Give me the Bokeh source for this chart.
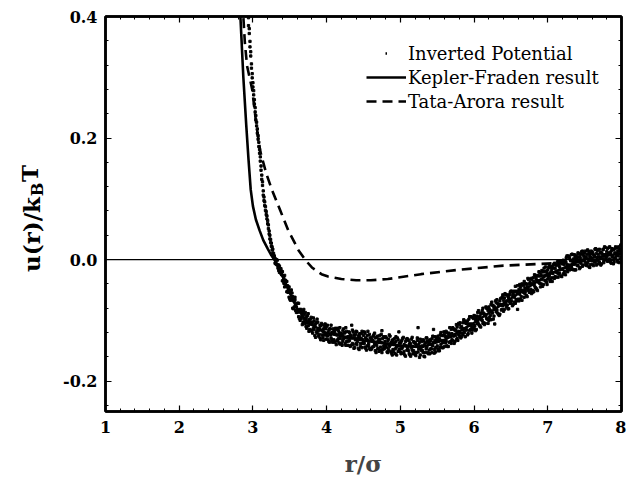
import math
from bokeh.plotting import figure
from bokeh.layouts import row
from bokeh.core.properties import value
from bokeh.models import (Range1d, SingleIntervalTicker, LinearAxis, NumeralTickFormatter,
                          CustomJSTickFormatter, Span, Legend, LegendItem, ColumnDataSource)
from bokeh.embed import file_html
from bokeh.resources import INLINE

# ---------------- data ----------------
# Inverted potential: r in hundredths of sigma, u in thousandths of kT (two samples per r)
inv_r_centi = [
    294, 295, 296, 297, 298, 299, 300, 301, 302, 303,
    304, 305, 306, 307, 308, 309, 310, 311, 312, 313,
    314, 315, 316, 317, 318, 319, 320, 321, 322, 323,
    324, 325, 326, 327, 328, 329,
    330, 331, 332, 333, 334, 335, 336, 337, 338, 339,
    340, 341, 342, 343, 344, 345, 346, 347, 348, 349,
    350, 351, 352, 353, 354, 355, 356, 357, 358, 359,
    360, 361, 362, 363, 364, 365, 366, 367, 368, 369,
    370, 371, 372, 373, 374, 375, 376, 377, 378, 379,
    380, 381, 382, 383, 384, 385, 386, 387, 388, 389,
    390, 391, 392, 393, 394, 395, 396, 397, 398, 399,
    400, 401, 402, 403, 404, 405, 406, 407, 408, 409,
    410, 411, 412, 413, 414, 415, 416, 417, 418, 419,
    420, 421, 422, 423, 424, 425, 426, 427, 428, 429,
    430, 431, 432, 433, 434, 435, 436, 437, 438, 439,
    440, 441, 442, 443, 444, 445, 446, 447, 448, 449,
    450, 451, 452, 453, 454, 455, 456, 457, 458, 459,
    460, 461, 462, 463, 464, 465, 466, 467, 468, 469,
    470, 471, 472, 473, 474, 475, 476, 477, 478, 479,
    480, 481, 482, 483, 484, 485, 486, 487, 488, 489,
    490, 491, 492, 493, 494, 495, 496, 497, 498, 499,
    500, 501, 502, 503, 504, 505, 506, 507, 508, 509,
    510, 511, 512, 513, 514, 515, 516, 517, 518, 519,
    520, 521, 522, 523, 524, 525, 526, 527, 528, 529,
    530, 531, 532, 533, 534, 535, 536, 537, 538, 539,
    540, 541, 542, 543, 544, 545, 546, 547, 548, 549,
    550, 551, 552, 553, 554, 555, 556, 557, 558, 559,
    560, 561, 562, 563, 564, 565, 566, 567, 568, 569,
    570, 571, 572, 573, 574, 575, 576, 577, 578, 579,
    580, 581, 582, 583, 584, 585, 586, 587, 588, 589,
    590, 591, 592, 593, 594, 595, 596, 597, 598, 599,
    600, 601, 602, 603, 604, 605, 606, 607, 608, 609,
    610, 611, 612, 613, 614, 615, 616, 617, 618, 619,
    620, 621, 622, 623, 624, 625, 626, 627, 628, 629,
    630, 631, 632, 633, 634, 635, 636, 637, 638, 639,
    640, 641, 642, 643, 644, 645, 646, 647, 648, 649,
    650, 651, 652, 653, 654, 655, 656, 657, 658, 659,
    660, 661, 662, 663, 664, 665, 666, 667, 668, 669,
    670, 671, 672, 673, 674, 675, 676, 677, 678, 679,
    680, 681, 682, 683, 684, 685, 686, 687, 688, 689,
    690, 691, 692, 693, 694, 695, 696, 697, 698, 699,
    700, 701, 702, 703, 704, 705, 706, 707, 708, 709,
    710, 711, 712, 713, 714, 715, 716, 717, 718, 719,
    720, 721, 722, 723, 724, 725, 726, 727, 728, 729,
    730, 731, 732, 733, 734, 735, 736, 737, 738, 739,
    740, 741, 742, 743, 744, 745, 746, 747, 748, 749,
    750, 751, 752, 753, 754, 755, 756, 757, 758, 759,
    760, 761, 762, 763, 764, 765, 766, 767, 768, 769,
    770, 771, 772, 773, 774, 775, 776, 777, 778, 779,
    780, 781, 782, 783, 784, 785, 786, 787, 788, 789,
    790, 791, 792, 793, 794, 795, 796, 797, 798, 799,
    800,
]

inv_u_milli_a = [
    398, 372, 359, 335, 322, 299, 291, 271, 263, 243,
    237, 220, 215, 198, 193, 175, 169, 147, 139, 122,
    113, 97, 95, 81, 79, 67, 64, 51, 47, 34,
    33, 22, 21, 11, 10, 2,
    2, -7, 0, -9, -9, -18, -11, -21, -15, -25,
    -20, -35, -31, -45, -34, -44, -36, -53, -49, -62,
    -51, -67, -50, -66, -61, -81, -69, -66, -84, -78,
    -72, -86, -72, -97, -86, -97, -86, -107, -85, -97,
    -102, -87, -110, -94, -104, -89, -118, -103, -98, -116,
    -103, -121, -96, -115, -110, -128, -104, -121, -103, -117,
    -113, -129, -109, -105, -124, -118, -133, -110, -124, -114,
    -110, -126, -120, -135, -114, -124, -108, -132, -120, -135,
    -132, -120, -113, -140, -124, -132, -117, -137, -112, -130,
    -122, -141, -117, -130, -121, -138, -112, -135, -128, -141,
    -134, -120, -143, -126, -108, -138, -119, -146, -128, -132,
    -118, -140, -130, -146, -124, -128, -138, -122, -145, -132,
    -135, -119, -144, -129, -149, -125, -133, -142, -123, -148,
    -129, -147, -133, -126, -143, -121, -150, -136, -141, -126,
    -146, -132, -125, -149, -136, -153, -130, -143, -128, -140,
    -127, -145, -139, -153, -131, -143, -126, -151, -136, -157,
    -148, -138, -130, -155, -135, -144, -129, -151, -119, -147,
    -138, -155, -133, -144, -128, -151, -141, -159, -132, -149,
    -146, -133, -155, -137, -159, -131, -149, -143, -135, -153,
    -137, -158, -142, -133, -152, -140, -161, -131, -148, -135,
    -150, -132, -159, -140, -153, -129, -144, -134, -155, -136,
    -132, -147, -140, -153, -126, -115, -148, -133, -152, -135,
    -142, -126, -150, -130, -145, -120, -133, -145, -125, -135,
    -123, -137, -118, -142, -127, -143, -121, -124, -135, -115,
    -132, -112, -126, -115, -135, -116, -107, -130, -118, -123,
    -107, -121, -129, -110, -113, -124, -99, -120, -103, -113,
    -116, -101, -122, -106, -94, -115, -106, -121, -95, -108,
    -92, -109, -99, -115, -93, -102, -84, -108, -93, -111,
    -99, -84, -105, -88, -107, -91, -78, -97, -81, -105,
    -78, -95, -84, -99, -70, -88, -76, -93, -78, -82,
    -86, -66, -88, -74, -92, -68, -74, -83, -62, -76,
    -67, -82, -56, -72, -78, -58, -81, -63, -58, -72,
    -52, -68, -76, -55, -59, -70, -44, -66, -54, -82,
    -65, -49, -41, -65, -50, -67, -41, -54, -36, -56,
    -40, -59, -44, -31, -51, -54, -38, -31, -56, -40,
    -51, -36, -25, -46, -31, -49, -26, -37, -20, -39,
    -27, -40, -18, -44, -28, -20, -34, -12, -37, -23,
    -32, -13, -26, -36, -13, -18, -36, -14, -30, -6,
    -15, -29, -8, -22, -2, -24, -12, -3, -27, -7,
    -16, -1, -22, -4, -25, 3, -8, -16, 6, -9,
    1, -16, 8, -8, -16, 1, 8, -17, 0, 7,
    -10, 11, -4, 5, -13, 9, -1, 14, -9, 5,
    11, -5, 4, -10, 16, -2, 10, -13, 4, 14,
    -2, 12, -10, 6, 17, -5, 10, 2, 16, -7,
    17, 3, 11, -7, 9, 16, -2, 21, 2, 8,
    4, 18, -2, 11, 21, -4, 14, 7, 17, -7,
    17, 2, 21, 7, -1, 14, 21, -5, 13, 17,
    12,
]

inv_u_milli_b = [
    385, 380, 350, 342, 315, 306, 284, 278, 256, 250,
    230, 226, 208, 204, 186, 181, 162, 154, 132, 128,
    106, 103, 89, 87, 74, 72, 59, 57, 42, 40,
    28, 27, 16, 17, 6, 6,
    -6, -1, -8, -1, -14, -9, -21, -17, -23, -19,
    -35, -27, -39, -26, -40, -36, -53, -43, -54, -45,
    -65, -52, -65, -55, -80, -67, -78, -62, -74, -87,
    -87, -72, -94, -82, -100, -82, -94, -88, -103, -82,
    -90, -105, -97, -113, -92, -109, -99, -115, -106, -95,
    -118, -105, -113, -101, -125, -106, -119, -98, -116, -126,
    -123, -108, -132, -116, -107, -128, -114, -123, -106, -131,
    -124, -108, -132, -116, -136, -114, -129, -120, -136, -114,
    -117, -136, -123, -115, -134, -113, -130, -120, -139, -122,
    -138, -124, -134, -114, -129, -120, -141, -118, -134, -127,
    -119, -133, -124, -141, -129, -116, -140, -124, -145, -123,
    -138, -119, -135, -126, -148, -122, -143, -130, -118, -138,
    -125, -138, -121, -146, -131, -142, -118, -138, -146, -129,
    -148, -131, -144, -134, -124, -139, -129, -153, -128, -147,
    -134, -151, -131, -144, -123, -117, -148, -127, -147, -135,
    -143, -129, -152, -134, -148, -124, -141, -138, -154, -133,
    -132, -152, -137, -147, -127, -157, -141, -132, -150, -137,
    -152, -135, -146, -130, -154, -140, -157, -135, -142, -130,
    -131, -150, -140, -157, -139, -145, -128, -155, -150, -137,
    -156, -139, -153, -129, -112, -147, -136, -157, -143, -150,
    -142, -153, -134, -160, -137, -147, -129, -153, -138, -149,
    -155, -134, -147, -130, -142, -136, -154, -127, -145, -129,
    -131, -147, -134, -150, -124, -140, -125, -137, -145, -119,
    -143, -127, -134, -120, -143, -122, -136, -112, -127, -138,
    -122, -133, -114, -138, -116, -125, -132, -111, -133, -105,
    -126, -104, -112, -127, -121, -104, -116, -101, -127, -105,
    -105, -124, -108, -98, -117, -108, -94, -112, -116, -97,
    -113, -93, -117, -97, -105, -87, -106, -96, -110, -88,
    -89, -100, -80, -104, -90, -105, -93, -80, -98, -84,
    -100, -82, -92, -74, -87, -75, -98, -79, -106, -68,
    -71, -83, -72, -90, -74, -90, -64, -75, -82, -58,
    -85, -63, -74, -58, -68, -75, -61, -81, -69, -54,
    -71, -52, -59, -74, -52, -62, -72, -52, -68, -43,
    -52, -68, -57, -45, -61, -40, -52, -43, -62, -47,
    -52, -40, -61, -48, -33, -40, -54, -49, -33, -54,
    -30, -53, -43, -27, -47, -34, -51, -27, -35, -21,
    -45, -25, -33, -20, -41, -14, -26, -35, -19, -41,
    -17, -29, -10, -22, -33, -30, -11, -23, -8, -31,
    -28, -10, -21, -4, -29, -10, -22, -16, -3, -28,
    -3, -24, -8, -19, -3, -13, 6, -20, -13, 4,
    -17, -2, -12, 9, -3, -17, -8, 5, -17, 1,
    3, -10, 10, -15, 3, -6, 13, -11, 8, -1,
    -2, 14, -9, 8, -6, 14, -12, 6, -8, 10,
    11, -8, 8, -3, 5, 18, -9, 15, -1, 8,
    -4, 12, -9, 11, 2, 17, -5, 8, 20, 0,
    13, -3, 9, 20, 1, 11, -6, 18, 4, 16,
    -4, 11, 3, 19, 10, -4, 6, 17, 1, 24,
    4,
]

# Kepler-Fraden result (solid)
kf_r = [2.80, 2.83, 2.87, 2.91, 2.94, 2.97, 3.00, 3.04, 3.09, 3.14, 3.20, 3.25, 3.30,
        3.35, 3.40, 3.50, 3.60, 3.75, 4.00, 4.50, 5.00, 5.30, 5.60, 6.00, 6.50, 7.00, 7.50, 8.00]
kf_u = [0.48, 0.40, 0.30, 0.22, 0.165, 0.115, 0.088, 0.066, 0.048, 0.032, 0.018, 0.007, -0.002,
        -0.012, -0.027, -0.055, -0.081, -0.104, -0.121, -0.133, -0.142, -0.144, -0.132, -0.104,
        -0.064, -0.025, 0.001, 0.010]

# Tata-Arora result (dashed)
ta_r = [2.85, 2.87, 2.89, 2.92, 2.99, 3.05, 3.10, 3.18, 3.26, 3.37, 3.48, 3.62, 3.72, 3.80,
        3.93, 4.02, 4.20, 4.40, 4.60, 4.83, 5.28, 5.78, 6.40, 7.10, 7.50, 8.00]
ta_u = [0.45, 0.40, 0.358, 0.319, 0.280, 0.218, 0.178, 0.142, 0.114, 0.081, 0.048, 0.015,
        -0.002, -0.013, -0.024, -0.028, -0.032, -0.034, -0.034, -0.032, -0.024, -0.017,
        -0.010, -0.006, -0.002, 0.000]

legend_labels = ["Inverted Potential", "Kepler-Fraden result", "Tata-Arora result"]
y_title_parts = ["u(r)/k", "B", "T"]
x_title = "r/σ"

# ---------------- figure ----------------
SERIF = "DejaVu Serif"
TITLE_W = 60      # narrow panel holding the y title
FRAME_TOP, FRAME_BOTTOM = 16, 411

p = figure(width=626 - TITLE_W, height=481, output_backend="svg", toolbar_location=None,
           x_range=Range1d(1, 8), y_range=Range1d(-0.25, 0.4),
           min_border_left=103 - TITLE_W, min_border_right=5, min_border_top=FRAME_TOP,
           min_border_bottom=481 - FRAME_BOTTOM)
p.background_fill_color = "white"
p.border_fill_color = "white"
p.outline_line_color = "black"
p.outline_line_width = 2.5
p.xgrid.visible = False
p.ygrid.visible = False

def style_axis(ax, ticker, show_labels):
    ax.ticker = ticker
    ax.axis_line_width = 2.5
    ax.axis_line_color = "black"
    ax.major_tick_in = 6
    ax.major_tick_out = 0
    ax.minor_tick_in = 3
    ax.minor_tick_out = 0
    ax.major_tick_line_width = 1.2
    ax.minor_tick_line_width = 1
    ax.major_label_text_font = SERIF
    ax.major_label_text_font_style = "bold"
    ax.major_label_text_font_size = "16px"
    ax.major_label_text_color = "black"
    if not show_labels:
        ax.formatter = CustomJSTickFormatter(code="return ''")
        ax.major_label_standoff = 0

xa = p.xaxis[0]
style_axis(xa, SingleIntervalTicker(interval=1, num_minor_ticks=5), True)
xa.major_label_standoff = 9
xa.axis_label = x_title
xa.axis_label_text_font = SERIF
xa.axis_label_text_font_style = "bold"
xa.axis_label_text_font_size = "23px"
xa.axis_label_standoff = 14

ya = p.yaxis[0]
style_axis(ya, SingleIntervalTicker(interval=0.2, num_minor_ticks=5), True)
ya.formatter = NumeralTickFormatter(format="0.0")
ya.major_label_standoff = 8

top = LinearAxis()
style_axis(top, SingleIntervalTicker(interval=1, num_minor_ticks=5), False)
p.add_layout(top, "above")
right = LinearAxis()
style_axis(right, SingleIntervalTicker(interval=0.2, num_minor_ticks=5), False)
p.add_layout(right, "right")

# zero line
p.add_layout(Span(location=0, dimension="width", line_color="black", line_width=1.2))

# data
inv_r = [v / 100.0 for v in inv_r_centi]
n_a = min(len(inv_r), len(inv_u_milli_a))
n_b = min(len(inv_r), len(inv_u_milli_b))
src_a = ColumnDataSource(dict(r=inv_r[:n_a], u=[v / 1000.0 for v in inv_u_milli_a[:n_a]]))
src_b = ColumnDataSource(dict(r=inv_r[:n_b], u=[v / 1000.0 for v in inv_u_milli_b[:n_b]]))

p.scatter("r", "u", source=src_a, marker="square", size=2.3, color="black")
p.scatter("r", "u", source=src_b, marker="square", size=2.3, color="black")
kf = p.line(kf_r, kf_u, line_color="black", line_width=2.6)
ta = p.line(ta_r, ta_u, line_color="black", line_width=2.6, line_dash="10 6")
# legend proxy for the scatter (draws nothing on the plot; in a 2 px wide glyph box it is a dot)
nan = float("nan")
dot_proxy = p.line(x=[nan, nan], y=[nan, nan], line_color="black", line_width=2.4)

def style_legend(lg):
    lg.label_text_font = SERIF
    lg.label_text_font_size = "18px"
    lg.label_text_color = "black"
    lg.glyph_height = 22
    lg.label_height = 22
    lg.spacing = 2
    lg.padding = 0
    lg.margin = 0
    lg.border_line_color = None
    lg.background_fill_alpha = 0

# first entry: tiny dot centred over the line samples below, text aligned with them
leg_dot = Legend(items=[LegendItem(label=legend_labels[0], renderers=[dot_proxy])],
                 location=(280, 347))
style_legend(leg_dot)
leg_dot.glyph_width = 2
leg_dot.label_standoff = 21
p.add_layout(leg_dot, "center")

leg_lines = Legend(items=[
    LegendItem(label=legend_labels[1], renderers=[kf]),
    LegendItem(label=legend_labels[2], renderers=[ta]),
], location=(261, 299))
style_legend(leg_lines)
leg_lines.glyph_width = 40
leg_lines.label_standoff = 2
p.add_layout(leg_lines, "center")

# ---------------- y title panel (u(r)/k_B T with subscript) ----------------
# the panel's frame is aligned with the main frame, so its y range is set in page pixels
t = figure(width=TITLE_W, height=481, output_backend="svg", toolbar_location=None,
           x_range=Range1d(0, TITLE_W), y_range=Range1d(FRAME_BOTTOM, FRAME_TOP),
           x_axis_location=None, y_axis_location=None,
           min_border_left=0, min_border_right=0, min_border_top=FRAME_TOP,
           min_border_bottom=481 - FRAME_BOTTOM)
t.outline_line_color = None
t.xgrid.visible = False
t.ygrid.visible = False
t.background_fill_color = "white"
t.border_fill_color = "white"
common = dict(angle=math.pi / 2, text_align="center", text_baseline="middle",
              text_font=value(SERIF), text_font_style="bold", text_color="black")
t.text(x=[31], y=[234], text=[y_title_parts[0]], text_font_size="23px", **common)
t.text(x=[37], y=[189], text=[y_title_parts[1]], text_font_size="16px", **common)
t.text(x=[29], y=[173], text=[y_title_parts[2]], text_font_size="23px", **common)

layout = row(t, p, spacing=0)
open("out.html", "w").write(file_html(layout, INLINE))
